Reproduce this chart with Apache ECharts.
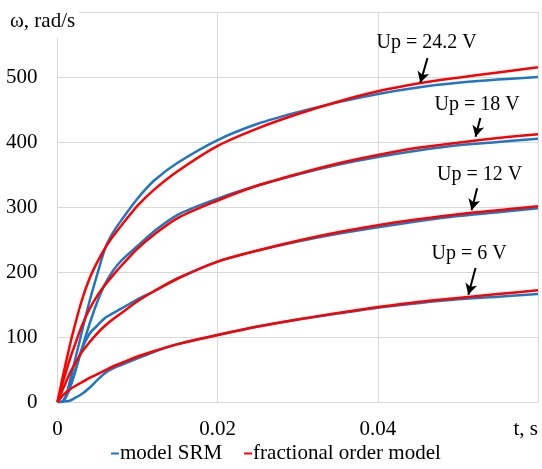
<!DOCTYPE html>
<html>
<head>
<meta charset="utf-8">
<script src="https://cdn.jsdelivr.net/npm/echarts@6/dist/echarts.min.js"></script>
<style>
  html, body { margin: 0; padding: 0; background: #fff; }
  #chart { width: 542px; height: 469px; }
</style>
</head>
<body>
<div id="chart"></div>
<script>
// time, s
var time = [0, 0.0005, 0.001, 0.0015, 0.002, 0.003, 0.004, 0.005, 0.006, 0.007, 0.008, 0.01, 0.012, 0.015,
            0.02, 0.025, 0.03, 0.035, 0.04, 0.045, 0.05, 0.055, 0.06]

// model SRM (blue)
var srm6  = [0, 0, 1, 2, 5, 12, 22, 34, 45, 52, 57, 67, 77, 89, 103, 116, 127, 136, 145, 152, 158, 162, 166]
var srm12 = [0, 0, 8, 22, 40, 80, 105, 118, 130, 137, 144, 158, 170, 190, 216, 233, 247, 259, 269, 278, 286, 292, 298]
var srm18 = [0, 0, 6, 20, 38, 80, 120, 155, 183, 203, 218, 240, 262, 288, 313, 333, 350, 365, 377, 387, 395, 400, 405]
var srm24 = [0, 0, 8, 30, 55, 106, 155, 198, 238, 262, 280, 313, 340, 368, 403, 428, 446, 461, 474, 484, 491, 496, 500]

// fractional order model (red)
var frac6  = [0, 8, 14, 19, 23, 30, 37, 43, 49, 55, 60, 70, 78, 89, 103, 116, 127, 137, 146, 154, 160, 166, 172]
var frac12 = [0, 15, 29, 43, 55, 76, 92, 106, 118, 128, 137, 155, 170, 190, 216, 233, 248, 261, 272, 281, 289, 295, 301]
var frac18 = [0, 23, 44, 64, 82, 116, 143, 164, 181, 196, 210, 236, 257, 283, 310, 333, 351, 367, 380, 391, 399, 406, 412]
var frac24 = [0, 30, 58, 85, 110, 155, 190, 216, 238, 256, 272, 302, 326, 355, 394, 421, 443, 462, 478, 490, 499, 507, 515]

// annotations: text position and arrow (from -> to), data coords
var noteText  = ['Up = 24.2 V', 'Up = 18 V', 'Up = 12 V', 'Up = 6 V']
var notePos   = [[0.0461, 552], [0.0524, 458], [0.0527, 349], [0.0514, 228]]
var arrowFrom = [[0.0462, 529], [0.0528, 437], [0.0524, 329], [0.0522, 206]]
var arrowTo   = [[0.0453, 491], [0.0522, 408], [0.0517, 295], [0.0513, 165]]

var BLUE = '#1f77c4'
var RED = '#ff0000'
var FONT = 'Liberation Serif'

function pairs(vals) {
  return time.map(function (t, i) { return [t, vals[i]] })
}

function curve(name, vals, color) {
  return {
    name: name,
    type: 'line',
    data: pairs(vals),
    showSymbol: false,
    smooth: 0.3,
    color: color,
    lineStyle: { width: 2.5, color: color },
    silent: true
  }
}

var series = [
  curve('model SRM', srm6, BLUE),
  curve('model SRM', srm12, BLUE),
  curve('model SRM', srm18, BLUE),
  curve('model SRM', srm24, BLUE),
  curve('fractional order model', frac6, RED),
  curve('fractional order model', frac12, RED),
  curve('fractional order model', frac18, RED),
  curve('fractional order model', frac24, RED)
]

// arrows and labels
series.push({
  name: 'notes',
  type: 'line',
  data: [],
  silent: true,
  markLine: {
    silent: true,
    symbol: ['none', 'arrow'],
    symbolSize: [9, 11],
    label: { show: false },
    lineStyle: { color: '#000', width: 2, type: 'solid' },
    data: arrowFrom.map(function (p, i) { return [{ coord: p }, { coord: arrowTo[i] }] })
  },
  markPoint: {
    silent: true,
    symbol: 'circle',
    symbolSize: 0,
    label: {
      show: true,
      color: '#000',
      fontFamily: FONT,
      fontSize: 20,
      formatter: function (p) { return p.name }
    },
    data: notePos.map(function (p, i) { return { name: noteText[i], coord: p } })
  }
})

var chart = echarts.init(document.getElementById('chart'))
chart.setOption({
  animation: false,
  backgroundColor: '#fff',
  grid: { left: 57.5, right: 4, top: 12, bottom: 67, outerBoundsMode: 'none', containLabel: false },
  legend: {
    data: ['model SRM', 'fractional order model'],
    bottom: 0,
    left: 106,
    icon: 'rect',
    itemWidth: 8,
    itemHeight: 2,
    itemGap: 22,
    textStyle: { fontFamily: FONT, fontSize: 21, color: '#000', padding: [0, 0, 0, -4] }
  },
  xAxis: {
    type: 'value',
    min: 0,
    max: 0.06,
    interval: 0.02,
    axisLine: { show: true, lineStyle: { color: '#d9d9d9', width: 1 } },
    axisTick: { show: false },
    splitLine: { show: true, lineStyle: { color: '#d9d9d9', width: 1 } },
    axisLabel: {
      margin: 17,
      fontFamily: FONT,
      fontSize: 21,
      color: '#000',
      alignMaxLabel: 'right',
      formatter: function (v) {
        if (v >= 0.06) return 't, s'
        return v === 0 ? '0' : v.toFixed(2)
      }
    }
  },
  yAxis: {
    type: 'value',
    min: 0,
    max: 600,
    interval: 100,
    axisLine: { show: true, lineStyle: { color: '#d9d9d9', width: 1 } },
    axisTick: { show: false },
    splitLine: { show: true, lineStyle: { color: '#d9d9d9', width: 1 } },
    axisLabel: {
      margin: 20,
      fontFamily: FONT,
      fontSize: 21,
      color: '#000',
      formatter: function (v) { return v >= 600 ? '' : String(v) }
    }
  },
  graphic: [{
    type: 'text',
    left: 10,
    top: 9,
    z: 100,
    style: {
      text: 'ω, rad/s',
      fontFamily: FONT,
      fontSize: 21,
      fill: '#000',
      backgroundColor: '#fff',
      padding: [2, 4, 6, 0]
    }
  }],
  series: series
})
</script>
</body>
</html>
